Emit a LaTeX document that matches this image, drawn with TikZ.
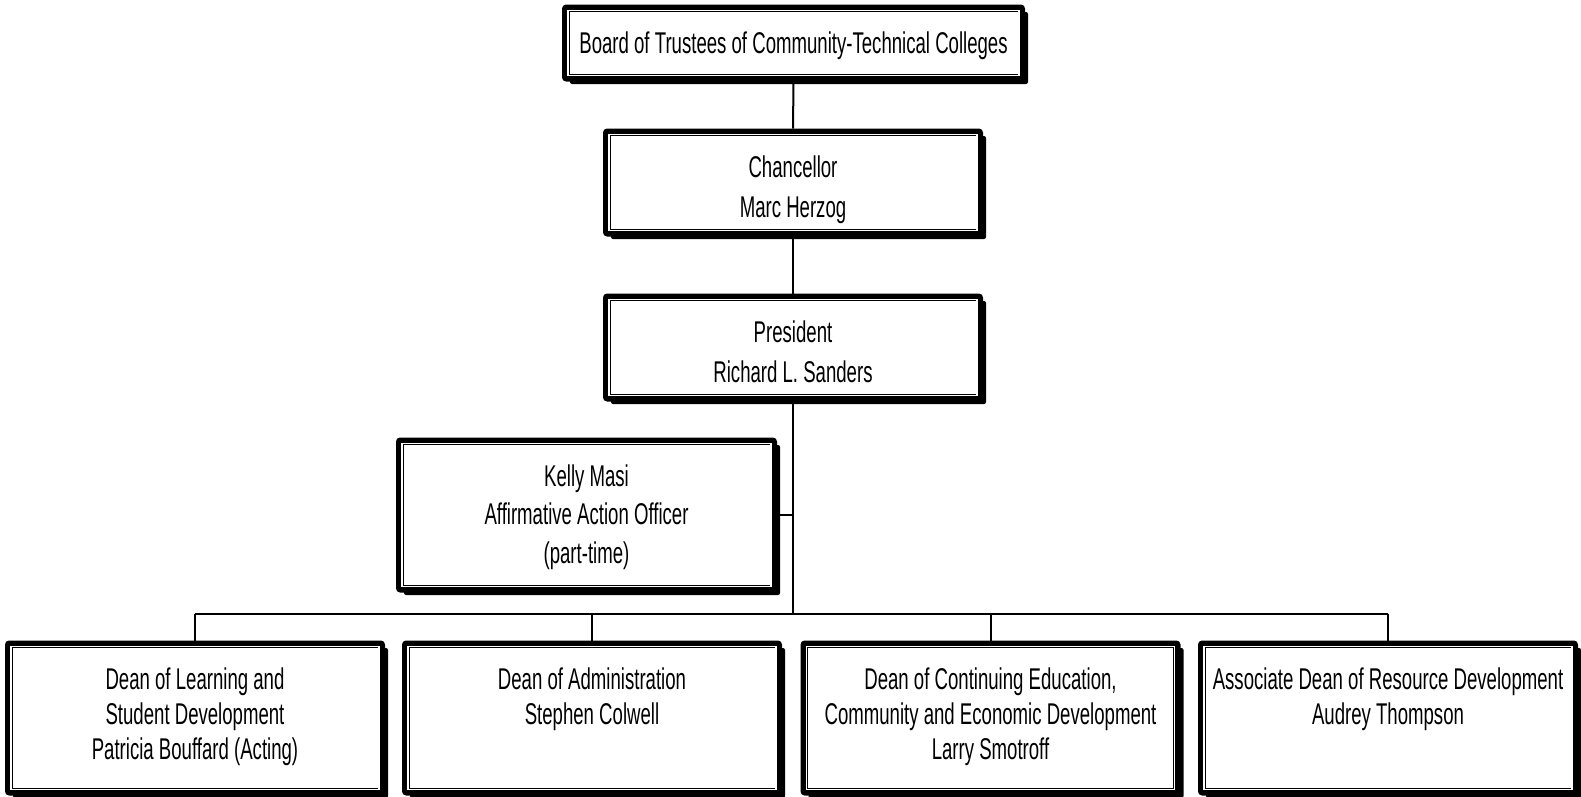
\documentclass[tikz,border=0pt]{standalone}
\usepackage{fontspec}
\setmainfont[FakeStretch=0.62]{Liberation Sans}
\usetikzlibrary{shadows}
\newcommand\boxtxt[4]{\parbox[c][#1pt][t]{#2pt}{\centering\fontsize{30}{#3}\selectfont\rule{0pt}{46pt}#4}}
\tikzset{
  orgbox/.style={draw=black, line width=5pt, fill=white, rounded corners=2pt, inner sep=0pt,
    anchor=north, drop shadow={shadow xshift=5.5pt, shadow yshift=-5pt, opacity=1, fill=black}},
  innerline/.style={draw=black, line width=0.7pt, double=white, double distance=1.6pt},
  conn/.style={draw=black, line width=2pt},
}
\begin{document}
\begin{tikzpicture}[x=1pt,y=-1pt]
\useasboundingbox[fill=white] (0,0) rectangle (1581,796);
\coordinate (bus) at (793,614);
\node[orgbox, minimum width=458pt, minimum height=72pt] (board) at (793.5,4.5)
  {\boxtxt{72}{456}{40}{Board of Trustees of Community-Technical Colleges}};
\node[orgbox, minimum width=375pt, minimum height=103pt] (chanc) at (793,128.5)
  {\boxtxt{103}{370}{40}{Chancellor\\Marc Herzog}};
\node[orgbox, minimum width=375pt, minimum height=103pt] (pres) at (793,293.5)
  {\boxtxt{103}{370}{40}{President\\Richard L. Sanders}};
\node[orgbox, minimum width=376pt, minimum height=150pt] (kelly) at (586.5,437.5)
  {\boxtxt{150}{370}{38.5}{Kelly Masi\\Affirmative Action Officer\\(part-time)}};
\node[orgbox, minimum width=375pt, minimum height=150pt] (d1) at (195,640.5)
  {\boxtxt{150}{370}{35}{Dean of Learning and\\Student Development\\Patricia Bouffard (Acting)}};
\node[orgbox, minimum width=375pt, minimum height=150pt] (d2) at (592,640.5)
  {\boxtxt{150}{370}{35}{Dean of Administration\\Stephen Colwell}};
\node[orgbox, minimum width=375pt, minimum height=150pt] (d3) at (990.5,640.5)
  {\boxtxt{150}{370}{35}{Dean of Continuing Education,\\Community and Economic Development\\Larry Smotroff}};
\node[orgbox, minimum width=375pt, minimum height=150pt] (d4) at (1388,640.5)
  {\boxtxt{150}{372}{35}{Associate Dean of Resource Development\\Audrey Thompson}};
\foreach \n in {board,chanc,pres,kelly,d1,d2,d3,d4}{
  \draw[innerline] ([xshift=6pt,yshift=-6pt]\n.north west) rectangle ([xshift=-6pt,yshift=6pt]\n.south east);
}
\draw[conn] (board.south) -- (chanc.north);
\draw[conn] (chanc.south) -- (pres.north);
\draw[conn] (pres.south) -- (bus);
\draw[conn] (kelly.east) -- (kelly.east -| bus);
\draw[conn] (d1.north |- bus) -- (d4.north |- bus);
\foreach \n in {d1,d2,d3,d4}{
  \draw[conn] (\n.north |- bus) -- (\n.north);
}
\end{tikzpicture}
\end{document}
